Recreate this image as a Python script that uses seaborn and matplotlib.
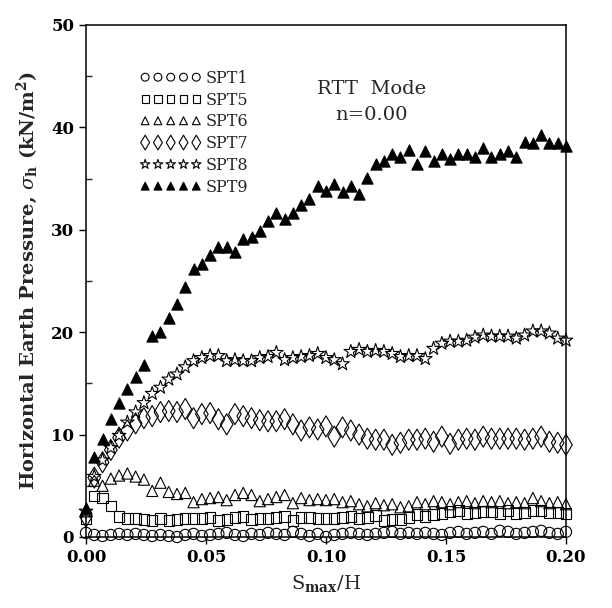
import numpy as np
import pandas as pd
import seaborn as sns
import matplotlib.pyplot as plt

# x positions (S_max/H), 59 readings from 0 to 0.20
s_over_h = np.linspace(0, 0.20, 59)

# Horizontal earth pressure readings (kN/m^2)
spt1 = [0.4, 0.2, 0.1, 0.2, 0.3, 0.2, 0.3, 0.2, 0.1, 0.2, 0.1, 0.0, 0.2, 0.3, 0.1,
        0.2, 0.3, 0.4, 0.2, 0.1, 0.3, 0.2, 0.4, 0.3, 0.2, 0.5, 0.3, 0.1, 0.3, 0.0,
        0.2, 0.3, 0.4, 0.3, 0.2, 0.3, 0.4, 0.5, 0.3, 0.4, 0.3, 0.4, 0.3, 0.2, 0.4,
        0.5, 0.3, 0.4, 0.5, 0.3, 0.6, 0.5, 0.3, 0.4, 0.5, 0.6, 0.4, 0.3, 0.5]
spt5 = [1.8, 4.0, 3.8, 3.0, 2.0, 1.8, 1.8, 1.7, 1.6, 1.8, 1.6, 1.7, 1.8, 1.8, 1.8,
        1.9, 1.6, 1.7, 1.9, 2.0, 1.7, 1.8, 1.8, 1.9, 2.0, 1.6, 1.9, 1.9, 1.8, 1.8,
        1.8, 1.9, 2.0, 1.8, 1.9, 2.1, 1.6, 1.7, 1.7, 1.9, 2.2, 2.0, 2.2, 2.3, 2.5,
        2.6, 2.3, 2.4, 2.5, 2.5, 2.3, 2.6, 2.3, 2.4, 2.6, 2.6, 2.4, 2.4, 2.3]
spt6 = [2.5, 5.5, 5.0, 5.7, 6.0, 6.2, 5.9, 5.6, 4.5, 5.3, 4.4, 4.2, 4.3, 3.4, 3.7,
        3.8, 3.9, 3.6, 4.1, 4.3, 4.1, 3.5, 3.7, 3.9, 4.1, 3.3, 3.8, 3.6, 3.7, 3.6,
        3.7, 3.4, 3.5, 3.2, 3.0, 3.3, 3.1, 3.2, 2.9, 3.0, 3.4, 3.2, 3.5, 3.4, 3.2,
        3.4, 3.5, 3.3, 3.5, 3.4, 3.5, 3.3, 3.4, 3.3, 3.8, 3.5, 3.3, 3.4, 3.2]
spt7 = [2.0, 5.8, 7.3, 8.5, 9.7, 10.4, 11.1, 11.6, 11.8, 12.2, 12.3, 12.2, 12.5, 11.6, 12.0,
        12.1, 11.5, 11.0, 12.0, 11.8, 11.6, 11.4, 11.3, 11.3, 11.5, 11.0, 10.4, 10.7, 10.5, 10.8,
        9.8, 10.7, 10.4, 10.0, 9.6, 9.5, 9.5, 9.0, 9.2, 9.5, 9.5, 9.6, 9.3, 9.8, 9.1,
        9.5, 9.6, 9.5, 9.8, 9.6, 9.6, 9.6, 9.6, 9.5, 9.6, 9.8, 9.3, 9.2, 9.0]
spt8 = [2.5, 5.9, 7.5, 8.7, 9.9, 11.2, 12.2, 13.1, 14.0, 14.6, 15.4, 15.9, 16.6, 17.2, 17.5,
        17.7, 17.7, 17.2, 17.3, 17.2, 17.2, 17.5, 17.6, 18.0, 17.3, 17.5, 17.6, 17.7, 17.9, 17.5,
        17.3, 16.9, 18.1, 18.3, 18.1, 18.2, 18.1, 17.9, 17.6, 17.7, 17.7, 17.4, 18.4, 18.9, 19.1,
        19.1, 19.2, 19.5, 19.7, 19.6, 19.6, 19.6, 19.4, 19.7, 20.1, 20.1, 19.9, 19.4, 19.2]
spt9 = [2.8, 7.8, 9.6, 11.5, 13.1, 14.5, 15.6, 16.8, 19.6, 20.0, 21.4, 22.8, 24.4, 26.2, 26.7,
        27.5, 28.3, 28.3, 27.8, 29.1, 29.3, 29.9, 30.9, 31.6, 31.1, 31.6, 32.4, 33.0, 34.3, 33.8,
        34.5, 33.7, 34.3, 33.5, 35.1, 36.4, 36.7, 37.4, 37.1, 37.8, 36.4, 37.7, 36.7, 37.4, 36.9,
        37.4, 37.4, 37.1, 38.0, 37.1, 37.4, 37.7, 37.1, 38.6, 38.5, 39.3, 38.5, 38.5, 38.2]

series_names = ["SPT1", "SPT5", "SPT6", "SPT7", "SPT8", "SPT9"]
series_values = [spt1, spt5, spt6, spt7, spt8, spt9]

# marker, size, face colour for each cell
marker_styles = {
    "SPT1": ("o", 65, "none"),
    "SPT5": ("s", 55, "none"),
    "SPT6": ("^", 65, "none"),
    "SPT7": ("d", 115, "none"),
    "SPT8": ("*", 105, "none"),
    "SPT9": ("^", 65, "black"),
}

df = pd.concat(
    [pd.DataFrame({"x": s_over_h, "y": vals, "cell": name})
     for name, vals in zip(series_names, series_values)],
    ignore_index=True,
)

sns.set_theme(style="ticks")
plt.rcParams["font.family"] = ["DejaVu Serif"]
plt.rcParams["mathtext.fontset"] = "dejavuserif"

fig = plt.figure(figsize=(6.12, 6.08), dpi=100)
ax = fig.add_axes([0.1405, 0.1168, 0.7843, 0.8421])

for name in series_names:
    mk, sz, fc = marker_styles[name]
    sns.scatterplot(
        data=df[df["cell"] == name], x="x", y="y", ax=ax,
        marker=mk, s=sz, facecolors=fc, edgecolor="black",
        linewidth=0.8, label=name, zorder=3, clip_on=False,
    )

ax.set_xlim(0, 0.20)
ax.set_ylim(0, 50)
ax.set_xticks([0.00, 0.05, 0.10, 0.15, 0.20])
ax.set_xticklabels(["0.00", "0.05", "0.10", "0.15", "0.20"])
ax.set_yticks(range(0, 51, 10))
ax.set_yticks(range(5, 50, 10), minor=True)
ax.tick_params(axis="both", which="major", direction="out", length=5,
               width=1, labelsize=12, colors="black")
ax.tick_params(axis="y", which="minor", direction="in", length=4, width=1)
for lbl in ax.get_xticklabels() + ax.get_yticklabels():
    lbl.set_fontweight("bold")
for sp in ax.spines.values():
    sp.set_visible(True)
    sp.set_linewidth(1.1)
    sp.set_color("black")

ax.set_xlabel(r"S$_\mathbf{max}$/H", fontsize=14, labelpad=5)
ax.set_ylabel(r"Horizontal Earth Pressure, $\sigma_\mathbf{h}$ (kN/m$^\mathbf{2}$)",
              fontsize=14, fontweight="bold", labelpad=8)

leg = ax.legend(loc="upper left", bbox_to_anchor=(0.1, 0.925), frameon=False,
                scatterpoints=5, scatteryoffsets=[0.5], markerscale=0.7,
                fontsize=11.5, handlelength=3.8, handletextpad=0.3,
                labelspacing=0.3, borderaxespad=0)

ax.text(0.595, 0.875, "RTT  Mode", transform=ax.transAxes, ha="center",
        va="center", fontsize=14)
ax.text(0.595, 0.825, "n=0.00", transform=ax.transAxes, ha="center",
        va="center", fontsize=14)

plt.savefig("out.png", dpi=100)
